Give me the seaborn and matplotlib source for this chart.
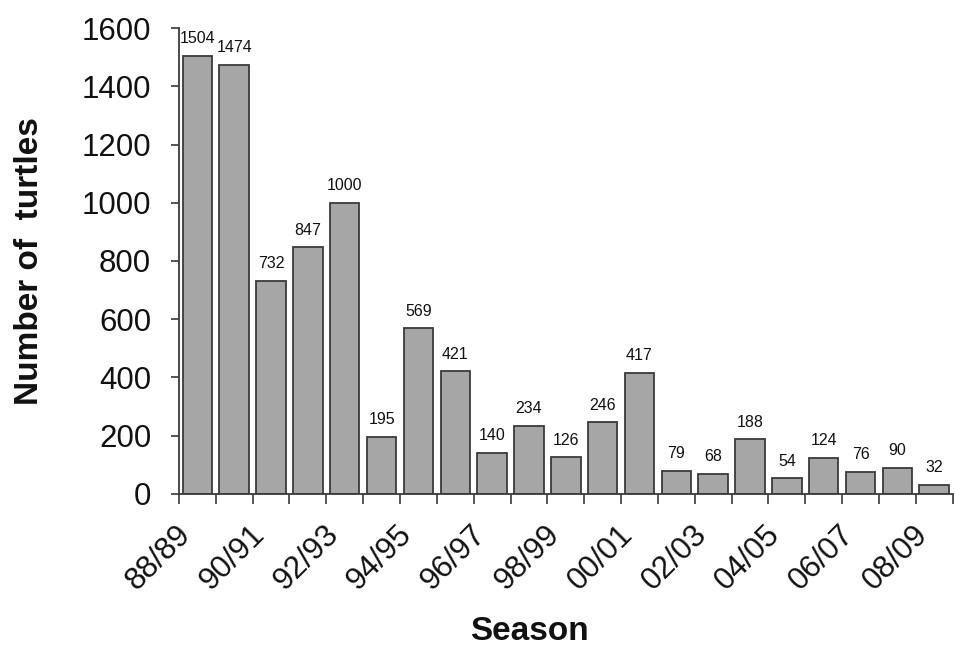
import numpy as np
import pandas as pd
import matplotlib
matplotlib.use("Agg")
import matplotlib.pyplot as plt
import matplotlib.transforms as mtransforms
import seaborn as sns

seasons = ["88/89", "89/90", "90/91", "91/92", "92/93", "93/94", "94/95", "95/96",
           "96/97", "97/98", "98/99", "99/00", "00/01", "01/02", "02/03", "03/04",
           "04/05", "05/06", "06/07", "07/08", "08/09"]
turtles = [1504, 1474, 732, 847, 1000, 195, 569, 421, 140, 234, 126, 246, 417,
           79, 68, 188, 54, 124, 76, 90, 32]
y_ticks = [0, 200, 400, 600, 800, 1000, 1200, 1400, 1600]
labelled_seasons = seasons[::2]

sns.set_theme(style="white")
plt.rcParams['font.family'] = ['Liberation Sans', 'DejaVu Sans']

df = pd.DataFrame({"Season": seasons, "Turtles": turtles})

fig = plt.figure(figsize=(9.55, 6.47), dpi=100)
ax = fig.add_axes([0.1874, 0.2365, 0.8101, 0.7202])

sns.barplot(data=df, x="Season", y="Turtles", order=seasons, color="#a6a6a6",
            saturation=1, edgecolor="#3a3a3a", linewidth=1.3, width=0.8, ax=ax)

for c in ax.containers:
    ax.bar_label(c, labels=[str(v) for v in turtles], padding=7, fontsize=11.5,
                 color="#111111")

ax.set_ylim(0, 1600)
ax.set_xlim(-0.5, len(seasons) - 0.5)
ax.set_yticks(y_ticks)
ax.set_yticklabels([str(v) for v in y_ticks], fontsize=22.5, color="#111111")

label_pos = [seasons.index(s) for s in labelled_seasons]
ax.set_xticks(label_pos)
ax.set_xticklabels(labelled_seasons, rotation=45, ha="right", va="center",
                   rotation_mode="anchor", fontsize=22.5, color="#111111")
ax.set_xticks(np.arange(-0.5, len(seasons), 1.0), minor=True)
ax.tick_params(axis="x", which="major", length=0, pad=26)
ax.tick_params(axis="x", which="minor", length=7, width=1.2, color="#3a3a3a",
               direction="out", bottom=True)
ax.tick_params(axis="y", which="major", length=6, width=1.2, color="#3a3a3a",
               direction="out", left=True, pad=14)

shift = mtransforms.ScaledTranslation(-11 / 100, 0, fig.dpi_scale_trans)
for lbl in ax.get_xticklabels():
    lbl.set_transform(lbl.get_transform() + shift)

for side in ["top", "right"]:
    ax.spines[side].set_visible(False)
for side in ["left", "bottom"]:
    ax.spines[side].set_color("#3a3a3a")
    ax.spines[side].set_linewidth(1.3)

ax.set_xlabel("Season", fontsize=24, fontweight="bold", color="#111111")
ax.set_ylabel("Number of  turtles", fontsize=24, fontweight="bold", color="#111111")
ax.xaxis.set_label_coords(0.453, -0.262)
ax.yaxis.set_label_coords(-0.173, 0.5)

fig.savefig("out.png", dpi=100, facecolor="white")
